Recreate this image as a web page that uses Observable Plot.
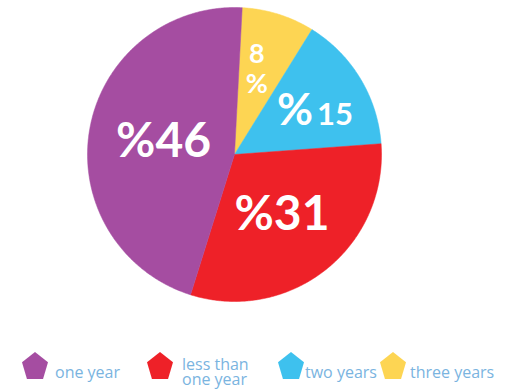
<!DOCTYPE html>
<html><head><meta charset="utf-8">
<script src="https://cdn.jsdelivr.net/npm/d3@7"></script>
<script src="https://cdn.jsdelivr.net/npm/@observablehq/plot@0.6"></script>
<style>
body{margin:0;background:#fff;width:508px;height:389px;overflow:hidden;position:relative;font-family:"Open Sans",sans-serif}
#chart{position:absolute;left:0;top:0}
#legend{position:absolute;top:0;left:0;width:508px;height:389px}
.item{position:absolute;top:352px;display:flex;align-items:flex-start}
.sw{width:26px;height:27px;clip-path:polygon(50% 0%,100% 38%,81% 100%,19% 100%,0% 38%)}
.lab{color:#7AB4DF;font-size:16px;line-height:15px;white-space:pre}
</style></head><body>
<div id="chart"></div><div id="legend"></div>
<script>
// data (pie order, clockwise from top)
const categories = ["three years", "two years", "less than one year", "one year"];
const values = [8, 15, 31, 46];
const colors = ["#FDD553", "#3EC1EE", "#EE2128", "#A54DA1"];
// legend order
const legendCategories = ["one year", "less than one year", "two years", "three years"];
const legendLabels = ["one year", "less than\none year", "two years", "three years"];

const rows = categories.map((c, i) => ({cat: c, value: values[i]}));
const start = 3 * Math.PI / 180;
const arcs = d3.pie().sort(null).value(d => d.value)
  .startAngle(start).endAngle(start + 2 * Math.PI)(rows);

const pts = arcs.flatMap(a => {
  const n = Math.max(2, Math.ceil((a.endAngle - a.startAngle) / (Math.PI / 360)));
  const p = [{cat: a.data.cat, x: 0, y: 0}];
  for (let i = 0; i <= n; i++) {
    const t = a.startAngle + (a.endAngle - a.startAngle) * i / n;
    p.push({cat: a.data.cat, x: Math.sin(t), y: Math.cos(t)});
  }
  p.push({cat: a.data.cat, x: 0, y: 0});
  return p;
});

const labelR = {"three years": 0.6, "two years": 0.6, "less than one year": 0.52, "one year": 0.49};
const labels = arcs.map(a => {
  const m = (a.startAngle + a.endAngle) / 2, r = labelR[a.data.cat];
  return {cat: a.data.cat, value: a.data.value, x: r * Math.sin(m), y: r * Math.cos(m)};
});
const big = labels.filter(d => d.cat === "one year" || d.cat === "less than one year");
const mid = labels.filter(d => d.cat === "two years");
const small = labels.filter(d => d.cat === "three years");
const font = "Lato, 'Open Sans', sans-serif";

const chart = Plot.plot({
  width: 508,
  height: 345,
  x: {domain: [-1, 1], range: [87, 381], axis: null},
  y: {domain: [-1, 1], range: [301, 7], axis: null},
  color: {domain: categories, range: colors},
  style: {background: "transparent", overflow: "visible"},
  marks: [
    Plot.line(pts, {x: "x", y: "y", z: "cat", fill: "cat", stroke: "cat", strokeWidth: 0.5, curve: "linear"}),
    Plot.text(big, {x: "x", y: "y", text: d => "%" + d.value, fill: "white", fontSize: 48, fontWeight: "bold", fontFamily: font}),
    Plot.text(mid, {x: "x", y: "y", text: d => "%", textAnchor: "end", dx: 3, dy: 2, fill: "white", fontSize: 44, fontWeight: "bold", fontFamily: font}),
    Plot.text(mid, {x: "x", y: "y", text: d => String(d.value), textAnchor: "start", dx: 7, dy: 6, fill: "white", fontSize: 31, fontWeight: "bold", fontFamily: font}),
    Plot.text(small, {x: "x", y: "y", text: d => d.value + "\n%", dx: -4, dy: -2, fill: "white", fontSize: 27, lineHeight: 1.1, fontWeight: "bold", fontFamily: font})
  ]
});
document.getElementById("chart").appendChild(chart);

// legend
const itemLeft = [22, 147, 278, 380];
const gap = [7, 9, 1, 4];
const legend = document.getElementById("legend");
legendCategories.forEach((c, i) => {
  const item = document.createElement("div");
  item.className = "item";
  item.style.left = itemLeft[i] + "px";
  const sw = document.createElement("div");
  sw.className = "sw";
  sw.style.background = colors[categories.indexOf(c)];
  const lab = document.createElement("div");
  lab.className = "lab";
  lab.textContent = legendLabels[i];
  lab.style.marginLeft = gap[i] + "px";
  lab.style.marginTop = (legendLabels[i].includes("\n") ? 5 : 13) + "px";
  item.appendChild(sw); item.appendChild(lab);
  legend.appendChild(item);
});
</script>
</body></html>
